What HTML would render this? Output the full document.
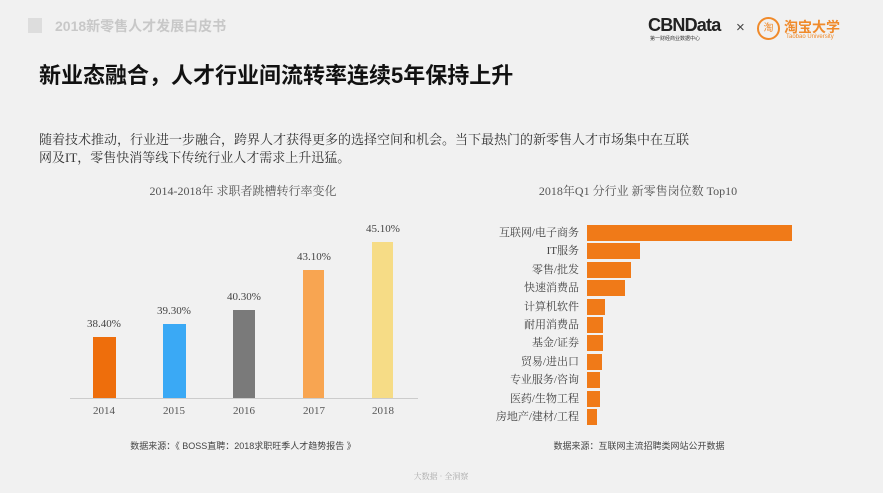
<!DOCTYPE html>
<html><head><meta charset="utf-8"><style>
*{margin:0;padding:0;box-sizing:border-box}
body{width:883px;height:493px;background:#f1f1f1;position:relative;overflow:hidden;font-family:"Liberation Sans","Noto Sans CJK SC",sans-serif}
.a{position:absolute;white-space:nowrap}
.serif{font-family:"Liberation Serif","Noto Serif CJK SC",serif}
.bar{position:absolute}
.hb{position:absolute;left:587px;height:16px;background:#f07a18}
.lab{position:absolute;right:304px;font-size:11px;color:#444;line-height:16px}
</style></head><body>
<div class="a" style="left:28px;top:18px;width:14px;height:15px;background:#ddd"></div>
<div class="a" style="left:55px;top:16px;font-size:14px;color:#c8c8c8;font-weight:bold">2018新零售人才发展白皮书</div>
<div class="a" style="left:648px;top:15px;font-size:18px;font-weight:bold;color:#222;letter-spacing:-0.8px">CBNData</div>
<div class="a" style="left:650px;top:35px;font-size:5px;color:#333">第一财经商业数据中心</div>
<div class="a" style="left:736px;top:19px;font-size:15px;color:#444">×</div>
<div class="a" style="left:757px;top:17px;width:23px;height:23px;border:2px solid #f08a2a;border-radius:50%;color:#f08a2a;font-size:10px;text-align:center;line-height:19px">淘</div>
<div class="a" style="left:784px;top:17px;font-size:14px;font-weight:bold;color:#f08a2a">淘宝大学</div>
<div class="a" style="left:786px;top:34px;font-size:6px;color:#f08a2a">Taobao University</div>
<div class="a" style="left:39px;top:58px;font-size:22px;font-weight:bold;color:#111">新业态融合，人才行业间流转率连续5年保持上升</div>
<div class="a serif" style="left:39px;top:131px;font-size:13px;color:#333;line-height:18px">随着技术推动，行业进一步融合，跨界人才获得更多的选择空间和机会。当下最热门的新零售人才市场集中在互联<br>网及IT，零售快消等线下传统行业人才需求上升迅猛。</div>

<div class="a serif" style="left:143px;top:182px;width:200px;text-align:center;font-size:12px;color:#555">2014-2018年 求职者跳槽转行率变化</div>
<div class="bar" style="left:93px;top:337px;width:23px;height:62px;background:#ee6e0c"></div>
<div class="bar" style="left:163px;top:324px;width:23px;height:75px;background:#3aa9f5"></div>
<div class="bar" style="left:233px;top:310px;width:22px;height:89px;background:#7a7a7a"></div>
<div class="bar" style="left:303px;top:270px;width:21px;height:129px;background:#f8a551"></div>
<div class="bar" style="left:372px;top:242px;width:21px;height:157px;background:#f6dc86"></div>
<div class="bar" style="left:70px;top:398px;width:348px;height:1px;background:#ccc"></div>
<div class="a serif" style="left:74px;top:318px;width:60px;text-align:center;font-size:11px;color:#444">38.40%</div>
<div class="a serif" style="left:144px;top:305px;width:60px;text-align:center;font-size:11px;color:#444">39.30%</div>
<div class="a serif" style="left:214px;top:291px;width:60px;text-align:center;font-size:11px;color:#444">40.30%</div>
<div class="a serif" style="left:284px;top:251px;width:60px;text-align:center;font-size:11px;color:#444">43.10%</div>
<div class="a serif" style="left:353px;top:223px;width:60px;text-align:center;font-size:11px;color:#444">45.10%</div>
<div class="a serif" style="left:74px;top:405px;width:60px;text-align:center;font-size:11px;color:#555">2014</div>
<div class="a serif" style="left:144px;top:405px;width:60px;text-align:center;font-size:11px;color:#555">2015</div>
<div class="a serif" style="left:214px;top:405px;width:60px;text-align:center;font-size:11px;color:#555">2016</div>
<div class="a serif" style="left:284px;top:405px;width:60px;text-align:center;font-size:11px;color:#555">2017</div>
<div class="a serif" style="left:353px;top:405px;width:60px;text-align:center;font-size:11px;color:#555">2018</div>
<div class="a" style="left:93px;top:439px;width:300px;text-align:center;font-size:9px;color:#444">数据来源：《 BOSS直聘：2018求职旺季人才趋势报告 》</div>

<div class="a serif" style="left:518px;top:182px;width:240px;text-align:center;font-size:12px;color:#555">2018年Q1 分行业 新零售岗位数 Top10</div>
<div class="hb" style="top:225px;width:205px"></div>
<div class="hb" style="top:243px;width:53px"></div>
<div class="hb" style="top:262px;width:44px"></div>
<div class="hb" style="top:280px;width:38px"></div>
<div class="hb" style="top:299px;width:18px"></div>
<div class="hb" style="top:317px;width:16px"></div>
<div class="hb" style="top:335px;width:16px"></div>
<div class="hb" style="top:354px;width:15px"></div>
<div class="hb" style="top:372px;width:13px"></div>
<div class="hb" style="top:391px;width:13px"></div>
<div class="hb" style="top:409px;width:10px"></div>
<div class="lab serif" style="top:225px">互联网/电子商务</div>
<div class="lab serif" style="top:243px">IT服务</div>
<div class="lab serif" style="top:262px">零售/批发</div>
<div class="lab serif" style="top:280px">快速消费品</div>
<div class="lab serif" style="top:299px">计算机软件</div>
<div class="lab serif" style="top:317px">耐用消费品</div>
<div class="lab serif" style="top:335px">基金/证券</div>
<div class="lab serif" style="top:354px">贸易/进出口</div>
<div class="lab serif" style="top:372px">专业服务/咨询</div>
<div class="lab serif" style="top:391px">医药/生物工程</div>
<div class="lab serif" style="top:409px">房地产/建材/工程</div>
<div class="a" style="left:539px;top:439px;width:200px;text-align:center;font-size:9px;color:#444">数据来源：互联网主流招聘类网站公开数据</div>
<div class="a serif" style="left:391px;top:471px;width:100px;text-align:center;font-size:8px;color:#aaa">大数据 · 全洞察</div>
</body></html>
